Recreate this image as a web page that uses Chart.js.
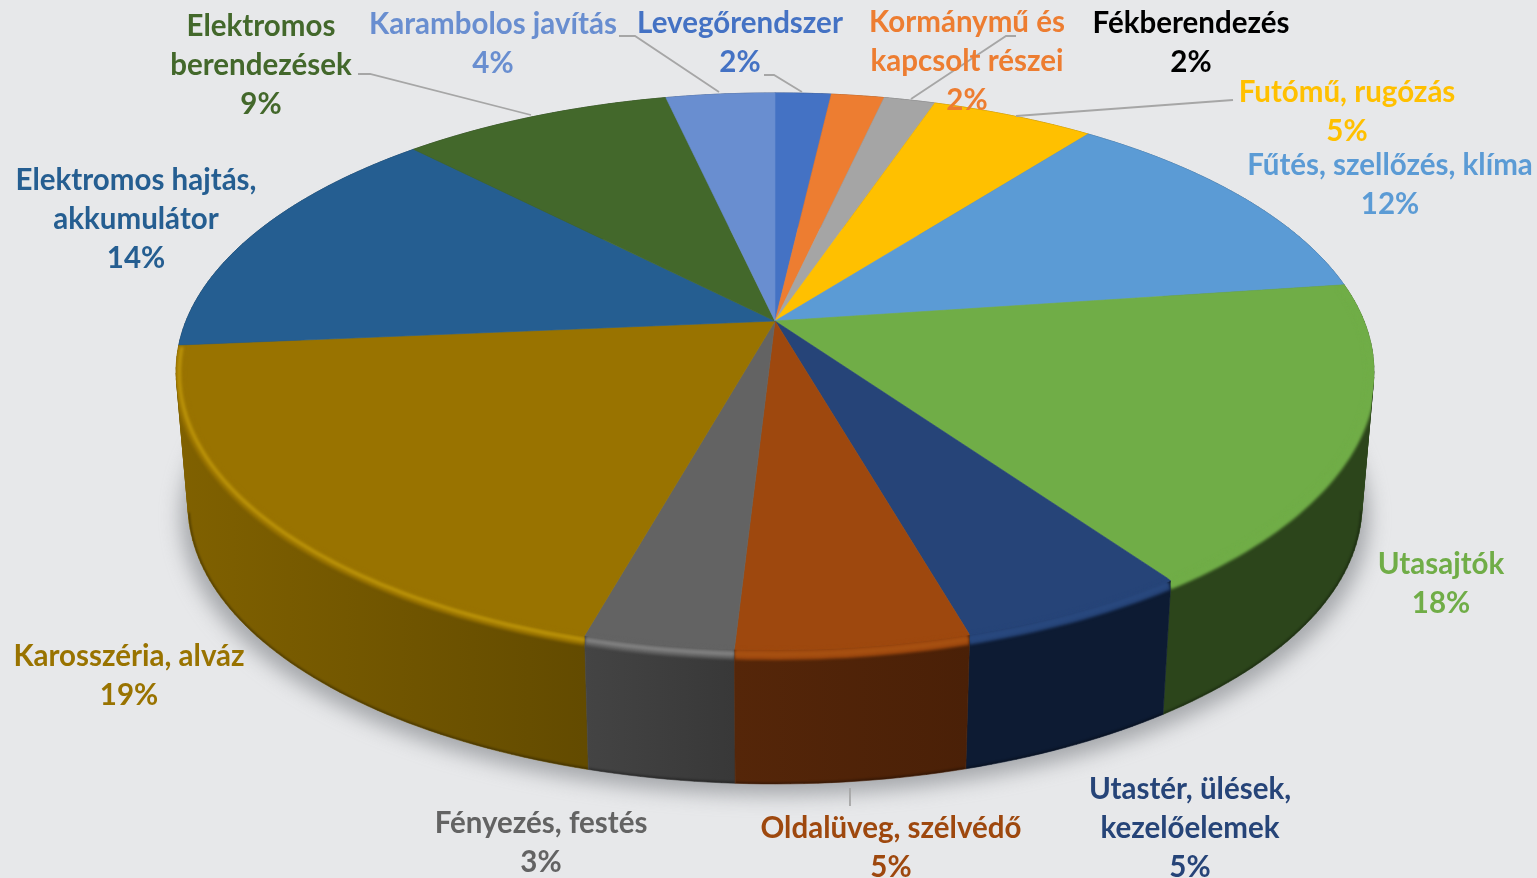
<!DOCTYPE html>
<html lang="hu">
<head>
<meta charset="utf-8">
<title>Meghibásodások</title>
<script src="https://cdn.jsdelivr.net/npm/chart.js@4"></script>
<style>
  html, body { margin: 0; padding: 0; background: #e7e8ea; overflow: hidden; }
  canvas { display: block; }
</style>
</head>
<body>
<canvas id="chart" width="1537" height="878"></canvas>
<script>
// Adatok
const categories = [
  'Levegőrendszer',
  ['Kormánymű és', 'kapcsolt részei'],
  'Fékberendezés',
  'Futómű, rugózás',
  'Fűtés, szellőzés, klíma',
  'Utasajtók',
  ['Utastér, ülések,', 'kezelőelemek'],
  'Oldalüveg, szélvédő',
  'Fényezés, festés',
  'Karosszéria, alváz',
  ['Elektromos hajtás,', 'akkumulátor'],
  ['Elektromos', 'berendezések'],
  'Karambolos javítás'
];
const values = [1.8, 1.7, 1.65, 5.25, 12.4, 17.5, 5.3, 5.3, 3.4, 19.3, 14.2, 8.7, 3.5];

// Színek
const sliceColors = ['#4472c4', '#ed7d31', '#a5a5a5', '#ffc000', '#5b9bd5', '#70ad47', '#264478',
  '#9e480e', '#636363', '#997300', '#255e91', '#43682b', '#698ed0'];
const labelColors = ['#4472c4', '#ed7d31', '#000000', '#ffc000', '#5b9bd5', '#70ad47', '#264478',
  '#9e480e', '#636363', '#997300', '#255e91', '#43682b', '#698ed0'];
const wallLeft = ['#223962', '#773e18', '#525252', '#7f6000', '#2d4e6a', '#2c451b', '#0d1b33',
  '#552609', '#444444', '#806100', '#123049', '#22341a', '#344768'];
const wallRight = ['#223962', '#773e18', '#525252', '#7f6000', '#2d4e6a', '#2c451b', '#0d1b33',
  '#4a2007', '#383838', '#634b00', '#123049', '#22341a', '#344768'];
const rimColors = ['#4472c4', '#ed7d31', '#a5a5a5', '#ffc000', '#5b9bd5', '#70ad47', '#29497f',
  '#a85212', '#858585', '#bd9509', '#255e91', '#43682b', '#698ed0'];

// Feliratok helye (közép x, első sor y)
const labelX = [740, 967, 1191, 1347, 1390, 1441, 1190, 891, 541, 129, 136, 261, 493];
const labelY = [23, 22, 23, 92, 165, 564, 789, 828, 823, 656, 180, 26, 24];
const lineHeight = 39;

// Vezetővonalak
const leaderLines = [
  [[619, 36], [635, 36], [719, 92]],
  [[764, 75], [774, 75], [802, 92]],
  [[1016, 36], [1006, 36], [911, 99]],
  [[1233, 100], [1016, 116]],
  [[358, 74], [370, 74], [531, 115]],
  [[850, 788], [850, 806]]
];

// Perspektíva: a körlap képe a vásznon
const CX = 775, CY = 321, RX = 589, RY = 269.4, PERSP = 0.181, DEPTH = 134, SHRINK = 0.98;

function topPt(a, r = 1) {
  const u = Math.cos(a) * r, v = Math.sin(a) * r, d = 1 - PERSP * v;
  return [CX + RX * u / d, CY + RY * v / d];
}
function bottomPt(a) {
  const p = topPt(a);
  return [CX + (p[0] - CX) * SHRINK, p[1] + DEPTH];
}
function arcPoints(fn, a0, a1) {
  const n = Math.max(2, Math.ceil((a1 - a0) / 0.02));
  const pts = [];
  for (let i = 0; i <= n; i++) pts.push(fn(a0 + (a1 - a0) * i / n));
  return pts;
}
function tracePoly(ctx, pts) {
  pts.forEach((p, i) => i ? ctx.lineTo(p[0], p[1]) : ctx.moveTo(p[0], p[1]));
}
function signedArea(pts) {
  let s = 0;
  pts.forEach((p, i) => {
    const q = pts[(i + 1) % pts.length];
    s += p[0] * q[1] - q[0] * p[1];
  });
  return s;
}
// Hozzáadja a path-hoz a poligont mindig azonos körüljárással (nonzero unió)
function addShape(ctx, pts) {
  tracePoly(ctx, signedArea(pts) < 0 ? pts.slice().reverse() : pts);
  ctx.closePath();
}
function addWall(ctx, arc) {
  const upper = arcPoints(topPt, arc.startAngle, arc.endAngle);
  const lower = arcPoints(bottomPt, arc.startAngle, arc.endAngle);
  for (let k = 0; k < upper.length - 1; k++) {
    addShape(ctx, [upper[k], upper[k + 1], lower[k + 1], lower[k]]);
  }
}
function addWedge(ctx, arc) {
  addShape(ctx, [[CX, CY]].concat(arcPoints(topPt, arc.startAngle, arc.endAngle)));
}

const pie3d = {
  id: 'pie3d',
  beforeDatasetsDraw(chart) {
    const ctx = chart.ctx;
    const arcs = chart.getDatasetMeta(0).data;
    const TWO_PI = Math.PI * 2;
    const midSin = arc => Math.sin((arc.startAngle + arc.endAngle) / 2);

    // Árnyék
    ctx.save();
    ctx.filter = 'blur(10px)';
    ctx.fillStyle = 'rgba(125,127,132,0.62)';
    ctx.beginPath();
    tracePoly(ctx, arcPoints(a => {
      const p = bottomPt(a);
      return [CX + (p[0] - CX) * 1.012, p[1] + 11];
    }, 0, TWO_PI));
    ctx.closePath();
    ctx.fill();
    ctx.restore();

    // Oldalfalak, hátulról előre
    arcs.map((arc, i) => ({ arc, i }))
      .sort((a, b) => midSin(a.arc) - midSin(b.arc))
      .forEach(({ arc, i }) => {
        const xs = arcPoints(topPt, arc.startAngle, arc.endAngle).map(p => p[0]);
        const g = ctx.createLinearGradient(Math.min(...xs), 0, Math.max(...xs), 0);
        g.addColorStop(0, wallLeft[i]);
        g.addColorStop(1, wallRight[i]);
        ctx.beginPath();
        addWall(ctx, arc);
        ctx.fillStyle = g;
        ctx.fill();
        ctx.strokeStyle = g;
        ctx.lineWidth = 0.6;
        ctx.stroke();

        // Sötétebb alsó él, csak ahol a fal alja látszik
        const steps = Math.ceil((arc.endAngle - arc.startAngle) / 0.02);
        const edge = [];
        for (let k = 0; k <= steps; k++) {
          const a = arc.startAngle + (arc.endAngle - arc.startAngle) * k / steps;
          if (Math.sin(a) > 0.2) edge.push(bottomPt(a));
        }
        if (edge.length > 1) {
          ctx.save();
          ctx.clip();
          ctx.filter = 'blur(1px)';
          ctx.beginPath();
          tracePoly(ctx, edge);
          ctx.strokeStyle = 'rgba(0,0,0,0.35)';
          ctx.lineWidth = 3;
          ctx.stroke();
          ctx.restore();
        }
      });

    // Felső lap
    arcs.forEach(arc => {
      ctx.beginPath();
      addWedge(ctx, arc);
      ctx.fillStyle = arc.options.backgroundColor;
      ctx.fill();
      ctx.strokeStyle = arc.options.backgroundColor;
      ctx.lineWidth = 0.6;
      ctx.stroke();
    });

    // Lekerekített perem az elülső szeleteken
    arcs.forEach((arc, i) => {
      if (midSin(arc) <= 0) return;
      const rim = arcPoints(a => {
        const p = topPt(a, 0.995);
        return [p[0], p[1] + 5 * Math.max(0.25, Math.sin(a) + 0.3)];
      }, arc.startAngle, arc.endAngle);
      ctx.save();
      ctx.beginPath();
      addWall(ctx, arc);
      addWedge(ctx, arc);
      ctx.clip();
      ctx.filter = 'blur(1.5px)';
      ctx.lineCap = 'butt';
      ctx.beginPath();
      tracePoly(ctx, rim);
      ctx.strokeStyle = arc.options.backgroundColor;
      ctx.lineWidth = 11;
      ctx.stroke();
      ctx.beginPath();
      tracePoly(ctx, rim);
      ctx.strokeStyle = rimColors[i];
      ctx.lineWidth = 3.5;
      ctx.stroke();
      ctx.restore();
    });

    // Vezetővonalak
    ctx.strokeStyle = '#a6a6a6';
    ctx.lineWidth = 1.8;
    leaderLines.forEach(line => {
      ctx.beginPath();
      tracePoly(ctx, line);
      ctx.stroke();
    });

    // Feliratok
    const total = values.reduce((a, b) => a + b, 0);
    ctx.font = 'bold 29.5px Lato, "Open Sans", sans-serif';
    ctx.textAlign = 'center';
    ctx.textBaseline = 'middle';
    categories.forEach((cat, i) => {
      const lines = [].concat(cat, Math.round(values[i] / total * 100) + '%');
      ctx.fillStyle = labelColors[i];
      lines.forEach((txt, k) => ctx.fillText(txt, labelX[i], labelY[i] + k * lineHeight));
    });
    return false;
  }
};

new Chart(document.getElementById('chart'), {
  type: 'pie',
  data: {
    labels: categories,
    datasets: [{ data: values, backgroundColor: sliceColors, borderWidth: 0 }]
  },
  options: {
    responsive: false,
    animation: false,
    plugins: {
      legend: { display: false },
      tooltip: { enabled: false }
    }
  },
  plugins: [pie3d]
});
</script>
</body>
</html>
